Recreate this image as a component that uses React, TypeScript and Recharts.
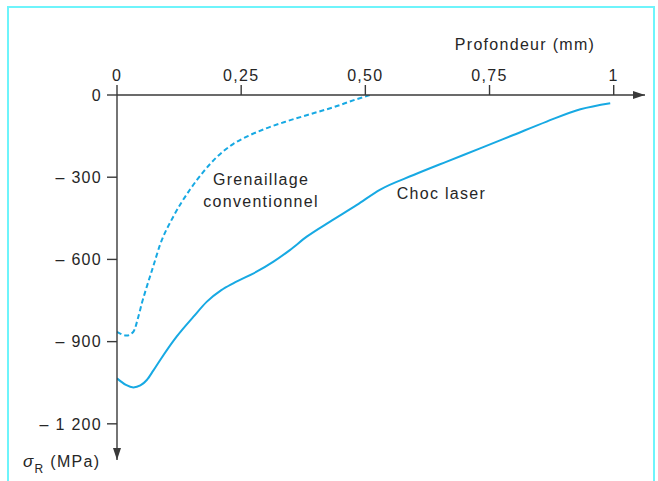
import React from "react";
import { LineChart, Line, XAxis, YAxis, ReferenceDot } from "recharts";

const xTicks = [0, 0.25, 0.5, 0.75, 1];
const xTickLabels = ["0", "0,25", "0,50", "0,75", "1"];
const yTicks = [0, -300, -600, -900, -1200];
const yTickLabels = ["0", "\u2013 300", "\u2013 600", "\u2013 900", "\u2013 1 200"];

const depthGrenaillage = [0, 0.0195, 0.033, 0.043, 0.05, 0.056, 0.0725, 0.0866, 0.113, 0.147, 0.175, 0.2, 0.233, 0.267, 0.3, 0.34, 0.385, 0.435, 0.483, 0.51];
const stressGrenaillage = [-864, -878, -864, -809, -760, -723, -628, -547, -445, -345, -278, -228, -180, -147, -122, -97, -72, -45, -15, 0];

const depthChoc = [0, 0.018, 0.033, 0.047, 0.06, 0.073, 0.087, 0.12, 0.154, 0.181, 0.21, 0.234, 0.281, 0.315, 0.348, 0.382, 0.429, 0.483, 0.53, 0.597, 0.664, 0.731, 0.798, 0.865, 0.933, 0.993];
const stressChoc = [-1034, -1058, -1067, -1060, -1040, -1006, -967, -882, -809, -754, -712, -687, -645, -608, -566, -517, -462, -401, -345, -292, -243, -195, -146, -97, -52, -30];

const xMax = 1.063;
const yMin = -1332;

const grenaillageData = depthGrenaillage.map((x, i) => ({ x, y: stressGrenaillage[i] }));
const chocData = depthChoc.map((x, i) => ({ x, y: stressChoc[i] }));

const FONT = "'Liberation Sans', Arial, sans-serif";
const TEXT = "#262626";
const AXIS = "#3a3a3a";
const BLUE = "#17a9e3";
const FRAME = "#6ef4fb";

const textStyle = { fontFamily: FONT, fontSize: 16, fill: TEXT, letterSpacing: 1.3 };

const frameBase: React.CSSProperties = {
  position: "absolute",
  background: FRAME,
  pointerEvents: "none",
  zIndex: 5,
};

export default function App() {
  return (
    <div style={{ position: "relative", width: 658, height: 481, overflow: "hidden", background: "#fff" }}>
      <style>{`html,body{margin:0;padding:0;overflow:hidden}`}</style>
      <LineChart
        width={658}
        height={481}
        margin={{ top: 0, left: 0, right: 13, bottom: 21 }}
      >
        <XAxis
          type="number"
          dataKey="x"
          orientation="top"
          domain={[0, xMax]}
          ticks={xTicks}
          interval={0}
          height={95}
          tickSize={10}
          tickMargin={4}
          allowDataOverflow
          axisLine={{ stroke: AXIS, strokeWidth: 1.4 }}
          tickLine={{ stroke: AXIS, strokeWidth: 1.4 }}
          tick={textStyle}
          tickFormatter={(v: number) => xTickLabels[xTicks.indexOf(v)] ?? ""}
          label={{
            content: () => (
              <text x={525} y={50} textAnchor="middle" style={textStyle}>
                Profondeur (mm)
              </text>
            ),
          }}
        />
        <YAxis
          type="number"
          dataKey="y"
          domain={[yMin, 0]}
          ticks={yTicks}
          interval={0}
          width={117}
          tickSize={10}
          tickMargin={5}
          allowDataOverflow
          axisLine={{ stroke: AXIS, strokeWidth: 1.4 }}
          tickLine={{ stroke: AXIS, strokeWidth: 1.4 }}
          tick={textStyle}
          tickFormatter={(v: number) => yTickLabels[yTicks.indexOf(v)] ?? ""}
          label={{
            content: () => (
              <text x={23} y={467} style={textStyle}>
                <tspan fontStyle="italic" fontSize={17}>σ</tspan>
                <tspan dy={6} fontSize={12}>R</tspan>
                <tspan dy={-6}> (MPa)</tspan>
              </text>
            ),
          }}
        />
        <Line
          data={grenaillageData}
          dataKey="y"
          type="monotone"
          stroke={BLUE}
          strokeWidth={2}
          strokeDasharray="5 3"
          dot={false}
          activeDot={false}
          isAnimationActive={false}
        />
        <Line
          data={chocData}
          dataKey="y"
          type="monotone"
          stroke={BLUE}
          strokeWidth={2}
          dot={false}
          activeDot={false}
          isAnimationActive={false}
        />
        <ReferenceDot
          x={xMax}
          y={0}
          ifOverflow="visible"
          shape={(p: any) => (
            <polygon
              points={`${p.cx},${p.cy} ${p.cx - 12},${p.cy - 4} ${p.cx - 12},${p.cy + 4}`}
              fill={AXIS}
            />
          )}
        />
        <ReferenceDot
          x={0}
          y={yMin}
          ifOverflow="visible"
          shape={(p: any) => (
            <polygon
              points={`${p.cx},${p.cy} ${p.cx - 4},${p.cy - 12} ${p.cx + 4},${p.cy - 12}`}
              fill={AXIS}
            />
          )}
        />
        <ReferenceDot
          x={0.29}
          y={-328}
          ifOverflow="visible"
          shape={(p: any) => (
            <text x={p.cx} y={p.cy} textAnchor="middle" style={textStyle}>
              <tspan x={p.cx}>Grenaillage</tspan>
              <tspan x={p.cx} dy={21.7}>conventionnel</tspan>
            </text>
          )}
        />
        <ReferenceDot
          x={0.563}
          y={-381}
          ifOverflow="visible"
          shape={(p: any) => (
            <text x={p.cx} y={p.cy} textAnchor="start" style={textStyle}>
              Choc laser
            </text>
          )}
        />
      </LineChart>
      <div style={{ ...frameBase, left: 7, top: 6, width: 2, height: 475 }} />
      <div style={{ ...frameBase, left: 7, top: 6, width: 648, height: 2 }} />
      <div style={{ ...frameBase, left: 653, top: 6, width: 2, height: 475 }} />
    </div>
  );
}
